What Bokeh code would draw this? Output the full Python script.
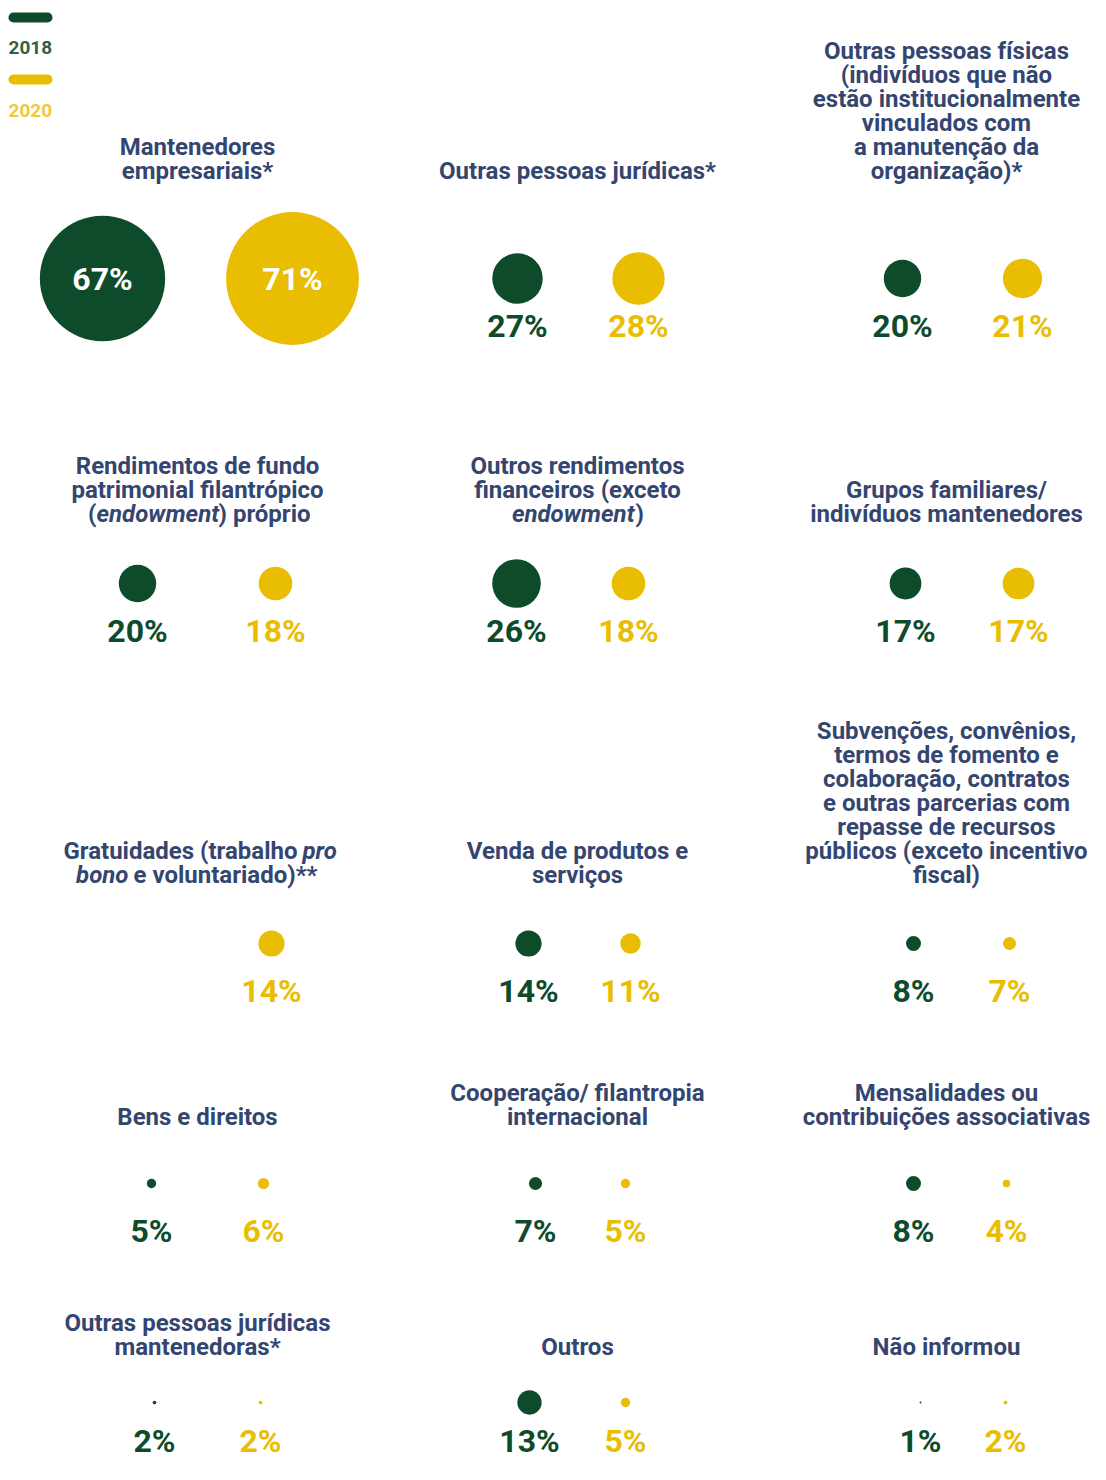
from bokeh.plotting import figure
from bokeh.models import Range1d, ColumnDataSource
from bokeh.embed import file_html
from bokeh.resources import INLINE
from bokeh.core.properties import value

# ---------------- data ----------------
categories = [
    "Mantenedores\nempresariais*",
    "Outras pessoas jurídicas*",
    "Outras pessoas físicas\n(indivíduos que não\nestão institucionalmente\nvinculados com\na manutenção da\norganização)*",
    "Rendimentos de fundo\npatrimonial filantrópico\n(endowment) próprio",
    "Outros rendimentos\nfinanceiros (exceto\nendowment)",
    "Grupos familiares/\nindivíduos mantenedores",
    "Gratuidades (trabalho pro\nbono e voluntariado)**",
    "Venda de produtos e\nserviços",
    "Subvenções, convênios,\ntermos de fomento e\ncolaboração, contratos\ne outras parcerias com\nrepasse de recursos\npúblicos (exceto incentivo\nfiscal)",
    "Bens e direitos",
    "Cooperação/ filantropia\ninternacional",
    "Mensalidades ou\ncontribuições associativas",
    "Outras pessoas jurídicas\nmantenedoras*",
    "Outros",
    "Não informou",
]
years = ["2018", "2020"]
values_2018 = [67, 27, 20, 20, 26, 17, None, 14, 8, 5, 7, 8, 2, 13, 1]
values_2020 = [71, 28, 21, 18, 18, 17, 14, 11, 7, 6, 5, 4, 2, 5, 2]

# ---------------- layout / style ----------------
GREEN = "#0e4b2b"
YELLOW = "#e9be02"
NAVY = "#344670"
LEG_GREEN = "#33603f"
LEG_YELLOW = "#f1c73c"
TITLE_FONT = "Roboto"
TITLE_SIZE = 24
LINE_STEP = 24
LABEL_SIZE = 32
PX_PER_PCT = 0.935  # circle radius (px) per percentage point

col_centers = [197, 577, 946]
title_bottom = [170, 513, 874, 1116, 1346]
circle_y = [278, 583, 943, 1183, 1402]
label_y = [325, 630, 990, 1230, 1440]
pos_2018 = [102, 517, 902, 137, 516, 905, 137, 528, 913, 151, 535, 913, 154, 529, 920]
pos_2020 = [292, 638, 1022, 275, 628, 1018, 271, 630, 1009, 263, 625, 1006, 260, 625, 1005]

# lines that mix upright and italic text: (panel, line) -> segments
mixed = {
    (3, 2): [("(", False, "right", 96), ("endowment", True, "left", 96), (") próprio", False, "left", 218)],
    (4, 2): [("endowment", True, "right", 634), (")", False, "left", 635)],
    (6, 0): [("Gratuidades (trabalho", False, "right", 297), ("pro", True, "left", 302)],
    (6, 1): [("bono", True, "right", 128), ("e voluntariado)**", False, "left", 133)],
}

W, H = 1090, 1464
p = figure(width=W, height=H, output_backend="svg", toolbar_location=None,
           x_range=Range1d(0, W), y_range=Range1d(H, 0),
           min_border=0, outline_line_color=None, background_fill_color="white")
p.axis.visible = False
p.grid.visible = False

# ---------------- legend ----------------
p.segment(x0=[13, 13], y0=[17, 79], x1=[47, 47], y1=[17, 79],
          line_color=[GREEN, YELLOW], line_width=10, line_cap="round")
p.text(x=[8, 8], y=[47, 110], text=years, text_color=[LEG_GREEN, LEG_YELLOW],
       text_font=value(TITLE_FONT), text_font_style="bold", text_font_size="19px",
       text_align="left", text_baseline="middle")

# ---------------- titles ----------------
tx, ty, tt, ta = [], [], [], []
ix, iy, it, ia = [], [], [], []
for i, cat in enumerate(categories):
    row, col = divmod(i, 3)
    lines = cat.split("\n")
    n = len(lines)
    for j, line in enumerate(lines):
        y = title_bottom[row] - (n - 1 - j) * LINE_STEP
        if (i, j) in mixed:
            for seg, ital, align, x in mixed[(i, j)]:
                if ital:
                    ix.append(x); iy.append(y); it.append(seg); ia.append(align)
                else:
                    tx.append(x); ty.append(y); tt.append(seg); ta.append(align)
        else:
            tx.append(col_centers[col]); ty.append(y); tt.append(line); ta.append("center")

p.text(x="x", y="y", text="t", text_align="a",
       source=ColumnDataSource(dict(x=tx, y=ty, t=tt, a=ta)),
       text_color=NAVY, text_font=value(TITLE_FONT), text_font_style="bold",
       text_font_size=f"{TITLE_SIZE}px", text_baseline="middle")
p.text(x="x", y="y", text="t", text_align="a",
       source=ColumnDataSource(dict(x=ix, y=iy, t=it, a=ia)),
       text_color=NAVY, text_font=value(TITLE_FONT), text_font_style="bold italic",
       text_font_size=f"{TITLE_SIZE}px", text_baseline="middle")

# ---------------- circles and labels ----------------
cx, cy, cr, cc = [], [], [], []
lx, ly, lt, lc = [], [], [], []
for i in range(len(categories)):
    row = i // 3
    for vals, pos, color in ((values_2018, pos_2018, GREEN), (values_2020, pos_2020, YELLOW)):
        v = vals[i]
        if v is None:
            continue
        cx.append(pos[i]); cy.append(circle_y[row]); cr.append(v * PX_PER_PCT); cc.append(color)
        inside = (v * PX_PER_PCT * 2) > 100
        lx.append(pos[i])
        ly.append(circle_y[row] if inside else label_y[row])
        lt.append(f"{v}%")
        lc.append("white" if inside else color)

p.circle(x="x", y="y", radius="r", fill_color="c", line_color=None,
         source=ColumnDataSource(dict(x=cx, y=cy, r=cr, c=cc)))
p.text(x="x", y="y", text="t", text_color="c",
       source=ColumnDataSource(dict(x=lx, y=ly, t=lt, c=lc)),
       text_font=value("Roboto"), text_font_style="bold", text_font_size=f"{LABEL_SIZE}px",
       text_align="center", text_baseline="middle")

open("out.html", "w").write(file_html(p, INLINE))
